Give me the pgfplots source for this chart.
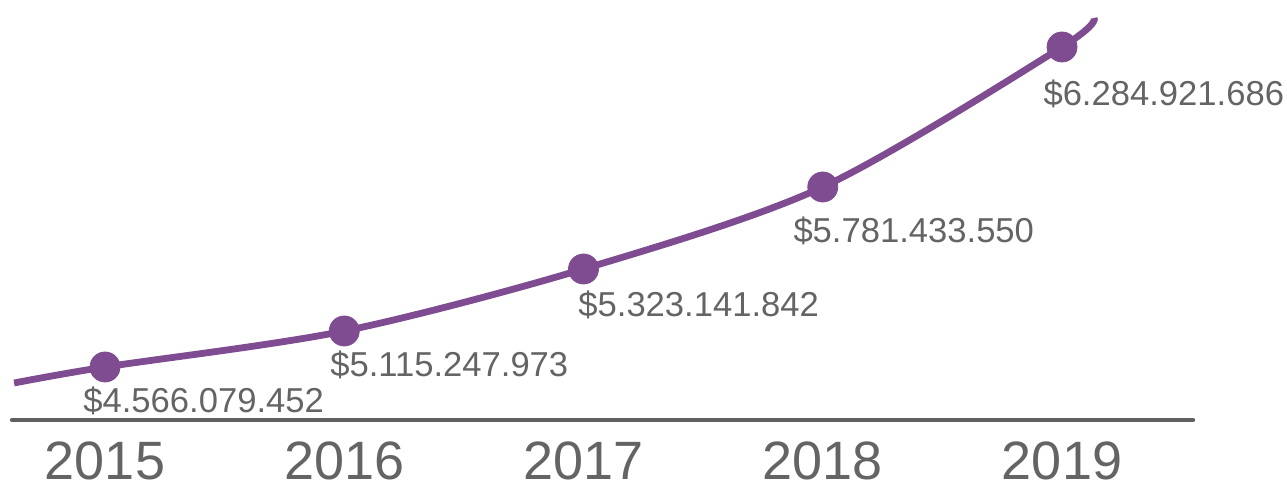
\documentclass[border=0pt]{standalone}
\usepackage{pgfplots}
\pgfplotsset{compat=1.18}
\usepackage{pgfplotstable}
\usepackage{fontspec}
\setmainfont{Liberation Sans}

\definecolor{linepurple}{RGB}{127,76,145}
\definecolor{textgray}{RGB}{100,100,100}
\definecolor{axisgray}{RGB}{96,96,96}

% yearly totals: x = year index, y = drawn height, (lx,ly) = where the label sits
\pgfplotstableread{
x y lx ly label
0 53 -0.092 7 4.566.079.452
1 89 0.940 43 5.115.247.973
2 151 1.977 103 5.323.141.842
3 233 2.876 177 5.781.433.550
4 373 3.921 314 6.284.921.686
}\totals

% the drawn curve runs a little past the first and last year
\pgfplotstableread{
x y
-0.380 37
0 53
1 89
2 151
3 233
4 373
4.134 402
}\curve

\begin{document}
\begin{tikzpicture}
\begin{axis}[
    x=119.625pt, y=0.5pt,
    xmin=-0.3887, xmax=4.5475,
    ymin=0, ymax=420,
    clip=false,
    axis x line*=bottom,
    hide y axis,
    x axis line style={line width=2.2pt, color=axisgray, line cap=round},
    xtick={0,1,2,3,4},
    xticklabels={2015,2016,2017,2018,2019},
    major tick length=0pt,
    xticklabel style={anchor=north, inner sep=0pt, yshift=-10.5pt,
        text=textgray, font=\fontsize{27pt}{32pt}\selectfont},
]
\path (axis cs:-0.4389,420) rectangle (axis cs:4.9404,-65);

\addplot[linepurple, line width=3.4pt, smooth, no marks] table[x=x, y=y] {\curve};

\addplot[only marks, mark=*, mark size=7.5pt, color=linepurple,
    mark options={fill=linepurple, draw=linepurple}] table[x=x, y=y] {\totals};

\addplot[only marks, mark=none,
    point meta=explicit symbolic,
    nodes near coords={\$\pgfplotspointmeta},
    every node near coord/.append style={anchor=base west, inner sep=0pt,
        text=textgray, font=\fontsize{17.3pt}{20pt}\selectfont}]
    table[x=lx, y=ly, meta=label] {\totals};
\end{axis}
\end{tikzpicture}
\end{document}
